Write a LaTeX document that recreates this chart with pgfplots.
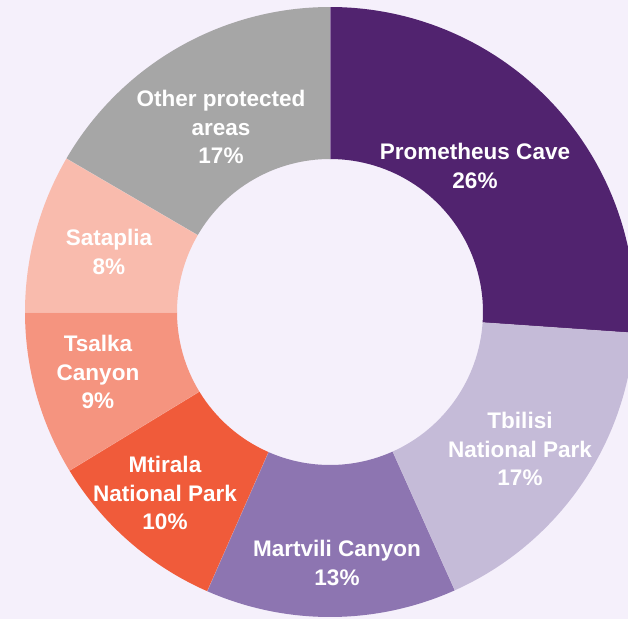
\documentclass[border=0pt]{standalone}
\usepackage{pgfplots}
\usepackage{pgfplotstable}
\pgfplotsset{compat=1.18}
\usepackage{fontspec}
\setmainfont{Liberation Sans}

\definecolor{bg}{HTML}{F5F0FB}
\definecolor{c0}{HTML}{51236F}
\definecolor{c1}{HTML}{C5BBD8}
\definecolor{c2}{HTML}{8D75B1}
\definecolor{c3}{HTML}{F05B3A}
\definecolor{c4}{HTML}{F5947F}
\definecolor{c5}{HTML}{F9BBAD}
\definecolor{c6}{HTML}{A6A6A6}

% shares in percent (read off the ring), clockwise from 12 o'clock
\pgfplotstableread[col sep=comma]{
idx,share
0,26.1
1,17.2
2,13.3
3,9.7
4,8.7
5,8.4
6,16.6
}\slices
\pgfplotstablecreatecol[create col/expr accum={\pgfmathaccuma+\thisrow{share}}{0}]{cum}{\slices}

\begin{document}
\begin{tikzpicture}[lbl/.style={align=center, text=white,
    font=\bfseries\fontsize{22.6}{29}\selectfont}]
\useasboundingbox (0,0) rectangle (628bp,619bp);
\begin{axis}[at={(0,0)}, anchor=south west,
  x=1bp, y=1bp, disabledatascaling,
  xmin=-330, xmax=298, ymin=-307, ymax=312,
  hide axis, clip=true]
\fill[bg] (rel axis cs:0,0) rectangle (rel axis cs:1,1);
\pgfplotsinvokeforeach{0,...,6}{
  \pgfplotstablegetelem{#1}{share}\of\slices \let\sh\pgfplotsretval
  \pgfplotstablegetelem{#1}{cum}\of\slices \let\cu\pgfplotsretval
  \pgfmathsetmacro\s{90-3.6*(\cu-\sh)}
  \pgfmathsetmacro\e{90-3.6*\cu}
  \edef\temp{\noexpand\fill[c#1] (axis cs:{305*cos(\s)},{305*sin(\s)})
    arc[start angle=\s, end angle=\e, radius=305bp]
    -- (axis cs:{153*cos(\e)},{153*sin(\e)})
    arc[start angle=\e, end angle=\s, radius=153bp] -- cycle;
    \noexpand\draw[white, opacity=0.35, line width=0.7bp]
    (axis cs:{153*cos(\e)},{153*sin(\e)}) -- (axis cs:{305*cos(\e)},{305*sin(\e)});}
  \temp
}
\node[lbl] at (axis cs:145,146) {Prometheus Cave\\26\%};
\node[lbl] at (axis cs:190,-137) {Tbilisi\\National Park\\17\%};
\node[lbl] at (axis cs:7,-251) {Martvili Canyon\\13\%};
\node[lbl] at (axis cs:-165,-181) {Mtirala\\National Park\\10\%};
\node[lbl] at (axis cs:-232,-60) {Tsalka\\Canyon\\9\%};
\node[lbl] at (axis cs:-221,60) {Sataplia\\8\%};
\node[lbl] at (axis cs:-109,185) {Other protected\\areas\\17\%};
\end{axis}
\end{tikzpicture}
\end{document}
